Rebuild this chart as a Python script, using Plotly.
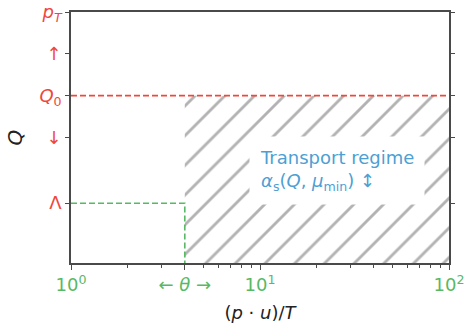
import plotly.graph_objects as go

# ---- data ----
x_range_vals = [1, 100]
theta = 4.0
p_T = 6.0
Q0 = 4.0
Lambda = 1.43
y_min = 0.0

x_tick_vals = [1, theta, 10, 100]
x_tick_text = ["10<sup>0</sup>", "← <i>θ</i> →", "10<sup>1</sup>", "10<sup>2</sup>"]
x_minor_vals = [2, 3, 5, 6, 7, 8, 9, 20, 30, 40, 50, 60, 70, 80, 90]
y_tick_vals = [Lambda, 3.0, Q0, 5.0, p_T]
y_tick_text = ["Λ", "↓", "<i>Q</i><sub>0</sub>", "↑", "<i>p</i><sub><i>T</i></sub>"]

annot_x_log = 0.94   # left edge of label box (log10 units)
annot_y = 2.2

RED = "#f0473b"
GREEN = "#57b964"
BLUE = "#4d9fd4"
GRAY = "#b2b2b2"
SPINE = "#4a4a4a"
FONT = "DejaVu Sans"

fig = go.Figure()

# hatched transport region
fig.add_trace(go.Scatter(
    x=[theta, x_range_vals[1], x_range_vals[1], theta, theta],
    y=[y_min, y_min, Q0, Q0, y_min],
    mode="lines", line=dict(width=0), fill="toself",
    fillcolor="white",
    fillpattern=dict(shape="/", size=21, solidity=0.135, fgcolor=GRAY, fgopacity=1,
                     bgcolor="white", fillmode="replace"),
    hoverinfo="skip", showlegend=False,
))

# red dashed Q0 line
fig.add_trace(go.Scatter(
    x=x_range_vals, y=[Q0, Q0], mode="lines",
    line=dict(color=RED, width=1.6, dash="6px,3px"),
    showlegend=False, hoverinfo="skip",
))

# green dashed Lambda / theta lines
fig.add_trace(go.Scatter(
    x=[x_range_vals[0], theta, theta], y=[Lambda, Lambda, y_min], mode="lines",
    line=dict(color=GREEN, width=1.6, dash="6px,3px"),
    showlegend=False, hoverinfo="skip",
))

fig.add_annotation(
    x=annot_x_log, y=annot_y, xref="x", yref="y",
    text="Transport regime<br><i>α</i><sub>s</sub>(<i>Q</i>, <i>μ</i><sub>min</sub>) ↕",
    showarrow=False, align="left", xanchor="left", yanchor="middle",
    font=dict(family=FONT, size=18, color=BLUE),
    bgcolor="white", borderpad=10,
)

fig.update_layout(
    width=466, height=324,
    margin=dict(l=71, r=17, t=12, b=61),
    paper_bgcolor="white", plot_bgcolor="white",
    font=dict(family=FONT, size=18, color="#222222"),
    showlegend=False,
)

fig.update_xaxes(
    type="log", range=[0, 2],
    tickmode="array", tickvals=x_tick_vals, ticktext=x_tick_text,
    tickfont=dict(color=GREEN, size=18, family=FONT),
    ticks="outside", ticklen=5, tickwidth=1.2, tickcolor=SPINE,
    minor=dict(tickvals=x_minor_vals, ticks="outside", ticklen=3, tickwidth=1, tickcolor=SPINE),
    showline=True, linecolor=SPINE, linewidth=1.6, mirror=True,
    showgrid=False, zeroline=False,
    title=dict(text="(<i>p</i> · <i>u</i>)/<i>T</i>", font=dict(size=18, family=FONT, color="#222222"), standoff=12),
    automargin=False,
)

fig.update_yaxes(
    range=[y_min, p_T],
    tickmode="array", tickvals=y_tick_vals, ticktext=y_tick_text,
    tickfont=dict(color=RED, size=18, family=FONT),
    ticks="outside", ticklen=4, tickwidth=1.2, tickcolor=SPINE,
    showline=True, linecolor=SPINE, linewidth=1.6, mirror="allticks",
    showgrid=False, zeroline=False,
    title=dict(text="<i>Q</i>", font=dict(size=20, family=FONT, color="#222222"), standoff=11),
    automargin=False,
)

fig.write_html("out.html")
